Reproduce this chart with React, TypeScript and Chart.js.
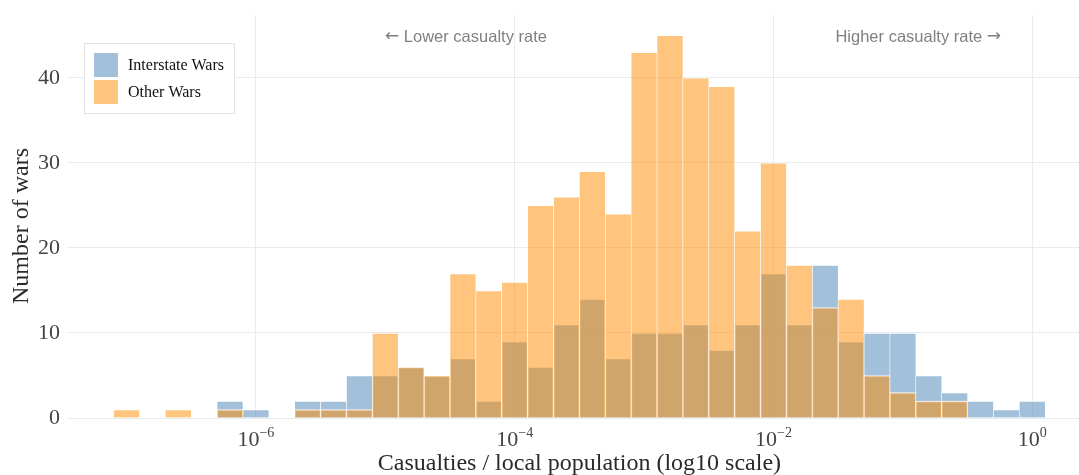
import React, { useEffect, useRef } from 'react';
import { Chart, registerables } from 'chart.js';

Chart.register(...registerables);

// log10 bin centers (bin width 0.2 decades)
const binCenters = [
  -7.0, -6.8, -6.6, -6.4, -6.2, -6.0, -5.8, -5.6, -5.4, -5.2, -5.0, -4.8,
  -4.6, -4.4, -4.2, -4.0, -3.8, -3.6, -3.4, -3.2, -3.0, -2.8, -2.6, -2.4,
  -2.2, -2.0, -1.8, -1.6, -1.4, -1.2, -1.0, -0.8, -0.6, -0.4, -0.2, 0.0,
];

const interstateWars = [
  0, 0, 0, 0, 2, 1, 0, 2, 2, 5, 5, 6,
  5, 7, 2, 9, 6, 11, 14, 7, 10, 10, 11, 8,
  11, 17, 11, 18, 9, 10, 10, 5, 3, 2, 1, 2,
];

const otherWars = [
  1, 0, 1, 0, 1, 0, 0, 1, 1, 1, 10, 6,
  5, 17, 15, 16, 25, 26, 29, 24, 43, 45, 40, 39,
  22, 30, 18, 13, 14, 5, 3, 2, 2, 0, 0, 0,
];

const xTickExponents = [-6, -4, -2, 0];
const yTickValues = [0, 10, 20, 30, 40];

const seriesNames = ['Interstate Wars', 'Other Wars'];
const leftNote = 'Lower casualty rate';
const rightNote = 'Higher casualty rate';
const leftArrow = '\u2190';
const rightArrow = '\u2192';
const xTitle = 'Casualties / local population (log10 scale)';
const yTitle = 'Number of wars';

const BLUE = 'rgba(70,130,180,0.5)';
const ORANGE = 'rgba(255,140,0,0.5)';
const SERIF = '"Liberation Serif", "Times New Roman", serif';
const SANS = '"Liberation Sans", Arial, sans-serif';
const ARROWFONT = '"DejaVu Sans", sans-serif';

const toPoints = (vals: number[]) =>
  binCenters.map((c, i) => ({ x: c, y: vals[i] === 0 ? null : vals[i] }));

const overlayPlugin = {
  id: 'overlay',
  afterDraw(chart: any) {
    const ctx = chart.ctx as CanvasRenderingContext2D;
    const xs = chart.scales.x;
    ctx.save();

    // x tick labels 10^n
    xTickExponents.forEach((e) => {
      const px = xs.getPixelForValue(e);
      const base = '10';
      const exp = e < 0 ? '\u2212' + Math.abs(e) : String(e);
      ctx.font = `22px ${SERIF}`;
      const wb = ctx.measureText(base).width;
      ctx.font = `14px ${SERIF}`;
      const we = ctx.measureText(exp).width;
      const start = px - (wb + we) / 2;
      ctx.fillStyle = '#444';
      ctx.textAlign = 'left';
      ctx.textBaseline = 'alphabetic';
      ctx.font = `22px ${SERIF}`;
      ctx.fillText(base, start, 446);
      ctx.font = `14px ${SERIF}`;
      ctx.fillText(exp, start + wb, 437);
    });

    // x title
    ctx.font = `24px ${SERIF}`;
    ctx.fillStyle = '#2a2a2a';
    ctx.textAlign = 'center';
    ctx.textBaseline = 'alphabetic';
    ctx.fillText(xTitle, xs.getPixelForValue(-3.5), 470);

    // y title
    ctx.save();
    ctx.translate(28, 226);
    ctx.rotate(-Math.PI / 2);
    ctx.textAlign = 'center';
    ctx.textBaseline = 'alphabetic';
    ctx.fillText(yTitle, 0, 0);
    ctx.restore();

    // annotations
    ctx.fillStyle = '#808080';
    ctx.textBaseline = 'middle';
    ctx.textAlign = 'left';
    ctx.font = `17px ${ARROWFONT}`;
    const aw = ctx.measureText(leftArrow).width;
    ctx.fillText(leftArrow, 385, 37);
    ctx.font = `16.5px ${SANS}`;
    const sp = ctx.measureText(' ').width;
    ctx.fillText(leftNote, 385 + aw + sp, 37);

    ctx.textAlign = 'right';
    ctx.font = `17px ${ARROWFONT}`;
    const aw2 = ctx.measureText(rightArrow).width;
    ctx.fillText(rightArrow, 1001, 37);
    ctx.font = `16.5px ${SANS}`;
    ctx.fillText(rightNote, 1001 - aw2 - sp, 37);

    // legend
    const lx = 84.5, ly = 43.5, lw = 150, lh = 70;
    ctx.fillStyle = '#ffffff';
    ctx.fillRect(lx, ly, lw, lh);
    ctx.strokeStyle = '#e3e3e3';
    ctx.lineWidth = 1;
    ctx.strokeRect(lx, ly, lw, lh);
    const colors = [BLUE, ORANGE];
    seriesNames.forEach((name, i) => {
      const sy = 53 + i * 27;
      ctx.fillStyle = colors[i];
      ctx.fillRect(94, sy, 24, 24);
      ctx.fillStyle = '#111';
      ctx.font = `16px ${SERIF}`;
      ctx.textAlign = 'left';
      ctx.textBaseline = 'middle';
      ctx.fillText(name, 128, sy + 12.5);
    });

    ctx.restore();
  },
};

export default function App() {
  const canvasRef = useRef<HTMLCanvasElement | null>(null);

  useEffect(() => {
    document.body.style.margin = '0';
    const canvas = canvasRef.current;
    if (!canvas) return;
    const chart = new Chart(canvas, {
      type: 'bar',
      data: {
        datasets: [
          {
            label: seriesNames[0],
            data: toPoints(interstateWars) as any,
            backgroundColor: BLUE,
            borderColor: 'rgba(255,255,255,0.9)',
            borderWidth: { top: 1, left: 0.6, right: 0.6, bottom: 0 } as any,
            grouped: false,
            barPercentage: 1,
            categoryPercentage: 1,
            order: 1,
          },
          {
            label: seriesNames[1],
            data: toPoints(otherWars) as any,
            backgroundColor: ORANGE,
            borderColor: 'rgba(255,255,255,0.9)',
            borderWidth: { top: 1, left: 0.6, right: 0.6, bottom: 0 } as any,
            grouped: false,
            barPercentage: 1,
            categoryPercentage: 1,
            order: 0,
          },
        ],
      },
      options: {
        animation: false,
        responsive: true,
        maintainAspectRatio: false,
        layout: { padding: { top: 15, right: 0, left: 0, bottom: 0 } },
        plugins: {
          legend: { display: false },
          tooltip: { enabled: false },
          title: { display: false },
        },
        scales: {
          x: {
            type: 'linear',
            min: -7.46,
            max: 0.361,
            offset: false,
            afterBuildTicks: (s: any) => {
              s.ticks = xTickExponents.map((v) => ({ value: v }));
            },
            afterFit: (s: any) => {
              s.height = 57;
              s.paddingLeft = 0;
              s.paddingRight = 0;
            },
            grid: { color: '#ebebeb', drawTicks: false, offset: false, lineWidth: 1 },
            border: { display: false },
            ticks: { display: false },
          },
          y: {
            type: 'linear',
            min: 0,
            max: 47.4,
            afterBuildTicks: (s: any) => {
              s.ticks = yTickValues.map((v) => ({ value: v }));
            },
            afterFit: (s: any) => {
              s.width = 67;
              s.paddingTop = 0;
              s.paddingBottom = 0;
            },
            grid: { color: '#ebebeb', drawTicks: false, lineWidth: 1 },
            border: { display: false },
            ticks: {
              color: '#444',
              padding: 7,
              font: { family: SERIF, size: 22 },
            },
          },
        },
      } as any,
      plugins: [overlayPlugin],
    });
    return () => chart.destroy();
  }, []);

  return (
    <div style={{ position: 'fixed', left: 0, top: 0, width: 1079, height: 475, background: '#fff' }}>
      <canvas ref={canvasRef} />
    </div>
  );
}
